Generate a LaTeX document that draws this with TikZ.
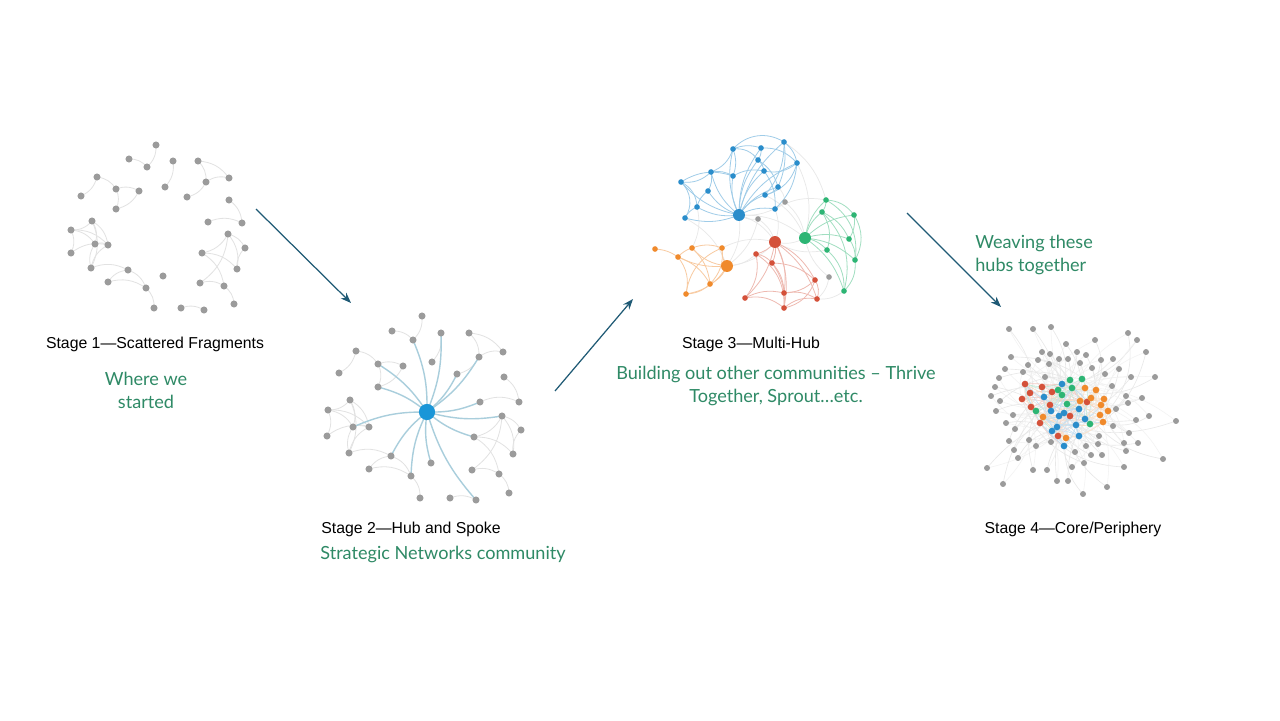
\documentclass[tikz,border=0pt]{standalone}
\usepackage{fontspec}
\setmainfont{Liberation Sans}
\newfontfamily\gfont{Lato}
\usetikzlibrary{arrows.meta}
\definecolor{dotgray}{HTML}{9B9B9B}
\definecolor{edgegray}{HTML}{E2E2E2}
\definecolor{hubblue}{HTML}{1A96D8}
\definecolor{spoke}{HTML}{A9CEDC}
\definecolor{cblue}{HTML}{2A8DCB}
\definecolor{cgreen}{HTML}{2DB574}
\definecolor{cred}{HTML}{D4513A}
\definecolor{corange}{HTML}{F08A2C}
\definecolor{txtgreen}{HTML}{2F8A66}
\definecolor{arrowc}{HTML}{1F5A75}
\tikzset{
  e1/.style={draw=edgegray, line width=0.45pt},
  sp/.style={draw=spoke, line width=0.8pt},
  eb/.style={draw=cblue!45, line width=0.45pt},
  eg/.style={draw=cgreen!45, line width=0.45pt},
  er/.style={draw=cred!40, line width=0.45pt},
  eo/.style={draw=corange!45, line width=0.45pt},
  ex/.style={draw=black!9, line width=0.4pt},
  lbl/.style={font=\fontsize{9}{11}\selectfont, inner sep=0pt, text=black},
  glbl/.style={font=\gfont\fontsize{10.3}{13}\selectfont, inner sep=0pt, text=txtgreen, align=center},
  arr/.style={draw=arrowc, line width=0.7pt, -{Stealth[length=6pt,width=4.5pt]}}
}
\begin{document}
\begin{tikzpicture}[x=0.02cm,y=-0.02cm]
\useasboundingbox (0,0) rectangle (1280,720);
\fill[white] (0,0) rectangle (1280,720);

% ---------- Stage 1 ----------
\foreach \i/\x/\y in {1/156/145,2/129/159,3/147/167,4/173/161,5/198/161,6/97/177,7/116/189,8/139/191,9/165/187,10/206/182,11/229/178,12/81/196,13/116/209,14/187/197,15/229/200,16/92/221,17/71/230,18/208/222,19/242/223,20/95/244,21/108/245,22/71/253,23/228/234,24/245/248,25/202/253,26/91/268,27/237/269,28/128/270,29/163/276,30/108/282,31/200/283,32/224/286,33/146/288,34/234/304,35/154/308,36/181/308,37/204/310}
  \coordinate (a\i) at (\x,\y);
\foreach \p/\q in {1/3,2/3,4/9,5/10,5/11,10/11,10/14,6/7,6/12,7/8,7/13,8/13,15/19,18/19,16/17,16/21,16/26,17/21,17/22,17/20,20/21,22/21,26/20,16/20,26/21,26/28,28/33,30/28,30/33,33/35,36/37,23/25,23/27,23/24,25/27,23/31,31/32,32/34,25/32,27/24}
  \draw[e1] (a\p) to[bend left=25] (a\q);
\foreach \i in {1,...,37} \fill[dotgray] (a\i) circle (2pt);

% ---------- Stage 2 ----------
\foreach \i/\x/\y in {1/422/316,2/392/331,3/413/340,4/441/333,5/469/333,6/356/351,7/378/364,8/403/366,9/432/362,10/479/357,11/503/352,12/339/373,13/378/387,14/457/374,15/504/377,16/350/400,17/328/410,18/480/402,19/519/402,20/353/427,21/369/427,22/327/436,23/502/416,24/521/430,25/474/437,26/349/453,27/513/454,28/391/456,29/431/463,30/369/469,31/472/470,32/499/474,33/411/476,34/509/493,35/420/498,36/450/498,37/476/500}
  \coordinate (b\i) at (\x,\y);
\coordinate (hub2) at (427,412);
\foreach \p/\q in {1/3,2/3,4/9,5/10,5/11,10/11,10/14,6/7,6/12,7/8,7/13,8/13,15/19,18/19,16/17,16/21,16/26,17/21,17/22,17/20,20/21,22/21,26/20,16/20,26/21,26/28,28/33,30/28,30/33,33/35,36/37,23/25,23/27,23/24,25/27,23/31,31/32,32/34,25/32,27/24}
  \draw[e1] (b\p) to[bend left=25] (b\q);
\foreach \q in {3,4,10,14,7,13,20,18,23,25,37,29,33,28}
  \draw[sp] (hub2) to[bend right=12] (b\q);
\foreach \i in {1,...,37} \fill[dotgray] (b\i) circle (2pt);
\fill[hubblue] (hub2) circle (4.6pt);

% ---------- Stage 3 ----------
\foreach \n/\x/\y in {B/739/215,b1/784/142,b2/733/149,b3/761/148,b4/758/160,b5/797/163,b6/711/172,b7/764/171,b8/733/176,b9/681/182,b10/708/191,b11/778/187,b12/765/195,b13/697/207,b14/775/209,b15/685/218,
  G/805/238,g1/826/200,g2/822/212,g3/854/215,g4/849/239,g5/827/250,g6/855/260,g7/844/291,
  R/775/242,r1/756/254,r2/772/263,r3/815/280,r4/784/293,r5/745/298,r6/817/299,r7/784/308,
  O/727/266,o1/655/249,o2/692/248,o3/722/248,o4/678/257,o5/710/284,o6/686/294,
  x1/785/202,x2/758/219,x3/829/277}
  \coordinate (m\n) at (\x,\y);
\foreach \p/\q in {B/R,B/G,G/R,R/O,B/O,x1/G,x2/R,x3/G,x3/r6,b14/g1,b5/G,x1/B,x2/B,b15/O,o3/R,r1/O,g5/R,b12/G,b14/R,x2/O,b13/o2,b11/x1,g7/r6,b1/g1}
  \draw[ex] (m\p) to[bend left=20] (m\q);
\foreach \q in {b1,b2,b3,b4,b5,b6,b7,b8,b9,b10,b11,b12,b13,b14,b15}
  \draw[eb] (mB) to[bend left=18] (m\q);
\foreach \p/\q/\b in {b1/b2/-40,b1/b5/20,b2/b3/20,b3/b4/20,b4/b7/20,b5/b7/25,b2/b6/25,b6/b9/25,b9/b15/40,b15/b13/20,b13/b10/20,b6/b8/20,b8/b7/20,b3/b5/25,b4/b11/20,b11/b12/20,b5/b14/20,b1/b12/20,b9/b13/30,b6/b10/20,b2/b8/20,b1/b11/15,b9/b8/25,b7/b14/20,b5/b12/30,b2/b4/30}
  \draw[eb] (m\p) to[bend left=\b] (m\q);
\foreach \q in {g1,g2,g3,g4,g5,g6,g7}
  \draw[eg] (mG) to[bend left=18] (m\q);
\foreach \p/\q/\b in {g1/g3/25,g3/g6/30,g6/g7/25,g2/g4/20,g1/g2/20,g4/g6/20,g5/g7/25,g3/g4/20,g2/g5/25,g1/g6/35,g2/g7/30}
  \draw[eg] (m\p) to[bend left=\b] (m\q);
\foreach \q in {r1,r2,r3,r4,r5,r6,r7}
  \draw[er] (mR) to[bend left=18] (m\q);
\foreach \p/\q/\b in {r1/r2/20,r1/r5/25,r2/r3/20,r2/r4/20,r5/r7/25,r7/r6/25,r3/r6/25,r4/r6/20,r2/r7/20,r3/r4/20,r5/r4/20,r1/r7/30,r3/r7/30}
  \draw[er] (m\p) to[bend left=\b] (m\q);
\foreach \p/\q/\b in {o1/o4/15,o4/o2/15,o2/o3/20,O/o3/20,O/o2/20,O/o4/15,O/o5/20,O/o6/25,o4/o6/25,o5/o6/20,o2/o5/20,o3/o5/25,o6/o3/30,o4/o5/20}
  \draw[eo] (m\p) to[bend left=\b] (m\q);
\foreach \q in {b1,b2,b3,b4,b5,b6,b7,b8,b9,b10,b11,b12,b13,b14,b15} \fill[cblue] (m\q) circle (1.6pt);
\foreach \q in {g1,g2,g3,g4,g5,g6,g7} \fill[cgreen] (m\q) circle (1.6pt);
\foreach \q in {r1,r2,r3,r4,r5,r6,r7} \fill[cred] (m\q) circle (1.6pt);
\foreach \q in {o1,o2,o3,o4,o5,o6} \fill[corange] (m\q) circle (1.6pt);
\foreach \q in {x1,x2,x3} \fill[dotgray] (m\q) circle (1.6pt);
\fill[cblue] (mB) circle (3.4pt);
\fill[cgreen] (mG) circle (3.4pt);
\fill[cred] (mR) circle (3.4pt);
\fill[corange] (mO) circle (3.4pt);

% ---------- Stage 4 ----------
\foreach \i/\x/\y/\c in {1/1025/384/cred,2/1042/387/cred,3/1030/393/cred,4/1052/392/cred,5/1022/399/cred,6/1031/407/cred,7/1050/405/cred,8/1087/402/cred,9/1070/416/cred,10/1040/423/cred,11/1058/436/cred,
  12/1070/380/cgreen,13/1082/379/cgreen,14/1058/390/cgreen,15/1072/388/cgreen,16/1062/395/cgreen,17/1067/404/cgreen,18/1036/411/cgreen,19/1090/424/cgreen,
  20/1085/388/corange,21/1096/390/corange,22/1080/401/corange,23/1091/398/corange,24/1104/399/corange,25/1101/405/corange,26/1108/411/corange,27/1100/415/corange,28/1103/422/corange,29/1043/417/corange,30/1066/438/corange,
  31/1062/384/cblue,32/1044/397/cblue,33/1051/411/cblue,34/1059/416/cblue,35/1064/413/cblue,36/1079/409/cblue,37/1085/419/cblue,38/1057/427/cblue,39/1052/431/cblue,40/1076/425/cblue,41/1079/436/cblue,42/1064/446/cblue}
  \coordinate (c\i) at (\x,\y);
\foreach \i/\x/\y in {1/1009/329,2/1033/329,3/1051/327,4/1095/340,5/1128/333,6/1137/340,7/1066/344,8/1146/352,9/1042/352,10/1050/354,11/1077/352,12/1086/355,13/1011/357,14/1059/359,15/1068/359,16/1101/360,17/1113/359,18/1028/365,19/1038/360,20/1049/364,21/1080/363,22/1005/369,23/1023/372,24/1092/368,25/1119/369,26/1105/374,27/1131/377,28/1155/377,29/999/378,30/1045/377,31/995/387,32/1112/386,33/1126/396,34/1142/398,35/991/396,36/1000/401,37/1116/409,38/1128/403,39/1149/416,40/996/411,41/1013/415,42/1136/420,43/1176/421,44/1006/423,45/1113/426,46/1015/429,47/1129/433,48/1009/441,49/1029/440,50/1036/446,51/1051/442,52/1099/436,53/1098/444,54/1086/446,55/1124/443,56/1138/443,57/1014/450,58/1018/458,59/1075/452,60/1091/455,61/1102/455,62/1126/451,63/1163/459,64/987/468,65/1033/470,66/1047/470,67/1072/467,68/1084/463,69/1124/467,70/1003/484,71/1057/481,72/1068/481,73/1083/494,74/1107/487}
  \coordinate (p\i) at (\x,\y);
\foreach \i in {1,...,74} {
  \pgfmathtruncatemacro{\k}{mod(\i*5,42)+1}
  \pgfmathtruncatemacro{\kk}{mod(\i*11+3,42)+1}
  \draw[draw=black!9, line width=0.35pt] (p\i) to[bend left=25] (c\k);
  \draw[draw=black!5, line width=0.3pt] (p\i) to[bend right=20] (c\kk);
}
\foreach \i/\c in {1/cred,2/cred,3/cred,4/cred,5/cred,6/cred,7/cred,8/cred,9/cred,10/cred,11/cred,12/cgreen,13/cgreen,14/cgreen,15/cgreen,16/cgreen,17/cgreen,18/cgreen,19/cgreen,20/corange,21/corange,22/corange,23/corange,24/corange,25/corange,26/corange,27/corange,28/corange,29/corange,30/corange,31/cblue,32/cblue,33/cblue,34/cblue,35/cblue,36/cblue,37/cblue,38/cblue,39/cblue,40/cblue,41/cblue,42/cblue} {
  \pgfmathtruncatemacro{\k}{mod(\i*7,42)+1}
  \pgfmathtruncatemacro{\kk}{mod(\i*13+5,42)+1}
  \pgfmathtruncatemacro{\kkk}{mod(\i+1,42)+1}
  \draw[draw=\c!30, line width=0.35pt] (c\i) to[bend left=20] (c\k);
  \draw[draw=\c!25, line width=0.35pt] (c\i) to[bend right=15] (c\kk);
  \draw[draw=\c!25, line width=0.35pt] (c\i) to[bend left=15] (c\kkk);
}
\foreach \i in {1,...,74} \fill[dotgray] (p\i) circle (1.7pt);
\foreach \i/\c in {1/cred,2/cred,3/cred,4/cred,5/cred,6/cred,7/cred,8/cred,9/cred,10/cred,11/cred,12/cgreen,13/cgreen,14/cgreen,15/cgreen,16/cgreen,17/cgreen,18/cgreen,19/cgreen,20/corange,21/corange,22/corange,23/corange,24/corange,25/corange,26/corange,27/corange,28/corange,29/corange,30/corange,31/cblue,32/cblue,33/cblue,34/cblue,35/cblue,36/cblue,37/cblue,38/cblue,39/cblue,40/cblue,41/cblue,42/cblue}
  \fill[\c] (c\i) circle (1.9pt);

% ---------- Arrows ----------
\coordinate (r1s) at (256,209); \coordinate (r1e) at (351,303);
\coordinate (r2s) at (555,391); \coordinate (r2e) at (633,299);
\coordinate (r3s) at (907,213); \coordinate (r3e) at (1001,307);
\draw[arr] (r1s) -- (r1e);
\draw[arr] (r2s) -- (r2e);
\draw[arr] (r3s) -- (r3e);

% ---------- Labels ----------
\node[lbl] (t1) at (155,344) {Stage 1—Scattered Fragments};
\node[glbl] (g1) at (146,390) {Where we\\started};
\node[lbl, anchor=west] (t2) at (321,529) {Stage 2—Hub and Spoke};
\node[glbl, anchor=west] (g2) at (320,554) {Strategic Networks community};
\node[lbl] (t3) at (751,344) {Stage 3—Multi-Hub};
\node[glbl] (g3) at (776,386) {Building out other communities – Thrive\\Together, Sprout…etc.};
\node[glbl, align=left, anchor=west] (g4) at (975,255) {Weaving these\\hubs together};
\node[lbl] (t4) at (1073,529) {Stage 4—Core/Periphery};
\end{tikzpicture}
\end{document}
